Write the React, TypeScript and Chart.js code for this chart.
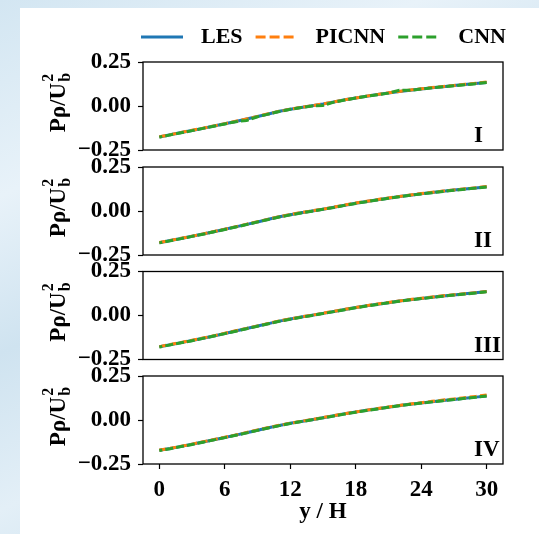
import React, { useEffect, useRef } from "react";
import { Chart, registerables } from "chart.js";

Chart.register(...registerables);

// ---------- data ----------
const X_VALUES = [0, 1, 2, 3, 4, 5, 6, 7, 8, 9, 10, 11, 12, 13, 14, 15, 16, 17, 18, 19, 20, 21, 22, 23, 24, 25, 26, 27, 28, 29, 30];
const X_TICKS = [0, 6, 12, 18, 24, 30];
const Y_TICKS = [-0.25, 0, 0.25];
const PANEL_LABELS = ["I", "II", "III", "IV"];
const SERIES_NAMES = ["LES", "PICNN", "CNN"];
const X_TITLE = "y / H";

const LES_I = [-0.176, -0.163, -0.151, -0.139, -0.127, -0.114, -0.101, -0.088, -0.074, -0.060, -0.045, -0.030, -0.018, -0.008, 0.001, 0.011, 0.023, 0.035, 0.046, 0.055, 0.065, 0.074, 0.083, 0.090, 0.097, 0.104, 0.110, 0.116, 0.122, 0.128, 0.134];
const PICNN_I = [-0.175, -0.163, -0.150, -0.138, -0.126, -0.113, -0.100, -0.087, -0.073, -0.059, -0.044, -0.030, -0.018, -0.007, 0.002, 0.012, 0.024, 0.035, 0.046, 0.056, 0.066, 0.075, 0.083, 0.091, 0.098, 0.105, 0.111, 0.117, 0.123, 0.129, 0.136];
const CNN_I = [-0.177, -0.164, -0.152, -0.140, -0.127, -0.115, -0.102, -0.089, -0.082, -0.061, -0.046, -0.031, -0.019, -0.009, 0.000, 0.003, 0.022, 0.034, 0.045, 0.055, 0.064, 0.073, 0.089, 0.089, 0.096, 0.103, 0.109, 0.115, 0.121, 0.127, 0.133];

const LES_II = [-0.180, -0.168, -0.156, -0.144, -0.131, -0.118, -0.104, -0.090, -0.076, -0.062, -0.047, -0.033, -0.021, -0.010, 0.000, 0.010, 0.021, 0.033, 0.044, 0.054, 0.064, 0.073, 0.082, 0.090, 0.098, 0.105, 0.112, 0.119, 0.125, 0.131, 0.138];
const PICNN_II = [-0.179, -0.167, -0.155, -0.143, -0.130, -0.117, -0.103, -0.089, -0.075, -0.061, -0.046, -0.032, -0.020, -0.009, 0.001, 0.011, 0.022, 0.034, 0.045, 0.055, 0.065, 0.074, 0.083, 0.091, 0.099, 0.106, 0.113, 0.120, 0.126, 0.132, 0.139];
const CNN_II = [-0.181, -0.169, -0.157, -0.144, -0.132, -0.118, -0.105, -0.091, -0.077, -0.062, -0.048, -0.034, -0.022, -0.011, -0.001, 0.010, 0.020, 0.032, 0.043, 0.053, 0.063, 0.072, 0.081, 0.089, 0.097, 0.104, 0.111, 0.118, 0.124, 0.130, 0.137];

const LES_III = [-0.178, -0.166, -0.154, -0.142, -0.129, -0.116, -0.102, -0.088, -0.074, -0.060, -0.046, -0.032, -0.020, -0.009, 0.001, 0.012, 0.023, 0.034, 0.045, 0.055, 0.064, 0.073, 0.082, 0.090, 0.097, 0.104, 0.111, 0.117, 0.123, 0.129, 0.136];
const PICNN_III = [-0.177, -0.165, -0.153, -0.141, -0.128, -0.115, -0.101, -0.087, -0.073, -0.059, -0.045, -0.031, -0.019, -0.008, 0.002, 0.013, 0.024, 0.035, 0.046, 0.056, 0.065, 0.074, 0.083, 0.091, 0.098, 0.105, 0.112, 0.118, 0.124, 0.130, 0.137];
const CNN_III = [-0.179, -0.167, -0.155, -0.143, -0.130, -0.117, -0.103, -0.089, -0.075, -0.061, -0.047, -0.033, -0.021, -0.010, 0.000, 0.011, 0.022, 0.033, 0.044, 0.054, 0.063, 0.072, 0.081, 0.089, 0.096, 0.103, 0.110, 0.116, 0.122, 0.128, 0.135];

const LES_IV = [-0.172, -0.162, -0.150, -0.138, -0.125, -0.112, -0.099, -0.086, -0.072, -0.058, -0.044, -0.031, -0.019, -0.008, 0.002, 0.013, 0.024, 0.035, 0.045, 0.055, 0.064, 0.073, 0.082, 0.090, 0.097, 0.104, 0.111, 0.117, 0.124, 0.130, 0.137];
const PICNN_IV = [-0.171, -0.161, -0.149, -0.137, -0.124, -0.111, -0.098, -0.085, -0.071, -0.057, -0.043, -0.030, -0.018, -0.007, 0.003, 0.014, 0.025, 0.036, 0.046, 0.056, 0.065, 0.074, 0.083, 0.091, 0.098, 0.106, 0.113, 0.120, 0.127, 0.134, 0.142];
const CNN_IV = [-0.173, -0.163, -0.151, -0.139, -0.126, -0.113, -0.100, -0.087, -0.073, -0.059, -0.045, -0.032, -0.020, -0.009, 0.001, 0.012, 0.023, 0.034, 0.044, 0.054, 0.063, 0.072, 0.081, 0.089, 0.096, 0.103, 0.110, 0.116, 0.123, 0.129, 0.136];

const PANEL_SERIES = [
  [LES_I, PICNN_I, CNN_I],
  [LES_II, PICNN_II, CNN_II],
  [LES_III, PICNN_III, CNN_III],
  [LES_IV, PICNN_IV, CNN_IV],
];

// ---------- styles / layout ----------
const W = 539;
const H = 534;
const FONT = "'Liberation Serif', 'Times New Roman', serif";
const COLORS = ["#1f77b4", "#ff7f0e", "#2ca02c"];
const DASHES: number[][] = [[], [7, 3.5], [8, 3]];
const DASH_OFFSETS = [0, 0, 5];
const PANEL_TOPS = [62, 167, 271.5, 376];
const PANEL_H = 88;
const AXIS_LEFT = 143;
const AXIS_RIGHT = 503;

function fmtY(v: number) {
  const s = Math.abs(v).toFixed(2);
  return v < -1e-9 ? "\u2212" + s : s;
}

function makeDecor(label: string, showLegend: boolean) {
  return {
    id: "panelDecor",
    afterDraw(chart: any) {
      const { ctx, chartArea: a } = chart;
      ctx.save();
      // frame
      ctx.strokeStyle = "#000";
      ctx.lineWidth = 1.3;
      ctx.setLineDash([]);
      ctx.strokeRect(a.left, a.top, a.right - a.left, a.bottom - a.top);
      // panel label
      ctx.fillStyle = "#000";
      ctx.font = `bold 23px ${FONT}`;
      ctx.textAlign = "left";
      ctx.textBaseline = "alphabetic";
      ctx.fillText(label, a.right - 29, a.bottom - 8);
      // y title  P rho / U_b^2
      const fs = 23;
      const ss = 16;
      const cx = 57;
      const cy = (a.top + a.bottom) / 2 - 3;
      ctx.translate(cx, cy);
      ctx.rotate(-Math.PI / 2);
      ctx.font = `bold ${fs}px ${FONT}`;
      const main = "P\u03c1/U";
      const w1 = ctx.measureText(main).width;
      ctx.font = `bold ${ss}px ${FONT}`;
      const w2 = Math.max(ctx.measureText("b").width, ctx.measureText("2").width);
      const x0 = -(w1 + w2) / 2;
      const by = fs * 0.34;
      ctx.font = `bold ${fs}px ${FONT}`;
      ctx.fillText(main, x0, by);
      ctx.font = `bold ${ss}px ${FONT}`;
      ctx.fillText("b", x0 + w1 + 1, by + fs * 0.22);
      ctx.fillText("2", x0 + w1 + 1, by - fs * 0.5);
      ctx.setTransform(1, 0, 0, 1, 0, 0);
      // legend
      if (showLegend) {
        const ly = a.top - 25;
        let x = a.left - 2;
        ctx.font = `bold 22px ${FONT}`;
        ctx.textBaseline = "middle";
        chart.data.datasets.forEach((ds: any, i: number) => {
          ctx.strokeStyle = ds.borderColor;
          ctx.lineWidth = 2.8;
          ctx.setLineDash(i === 0 ? [] : [10, 4]);
          ctx.beginPath();
          ctx.moveTo(x, ly);
          ctx.lineTo(x + 42, ly);
          ctx.stroke();
          x += 42 + 18;
          ctx.fillText(ds.label, x, ly);
          x += ctx.measureText(ds.label).width + 13;
        });
      }
      ctx.restore();
    },
  };
}

function makeConfig(p: number): any {
  const isLast = p === 3;
  const series = PANEL_SERIES[p];
  const order = [3, 2, 1];
  const datasets = series.map((arr, i) => ({
    label: SERIES_NAMES[i],
    data: X_VALUES.map((x, k) => ({ x, y: arr[k] })),
    borderColor: COLORS[i],
    backgroundColor: COLORS[i],
    borderWidth: 3,
    borderDash: DASHES[i],
    borderDashOffset: DASH_OFFSETS[i],
    pointRadius: 0,
    fill: false,
    tension: 0,
    order: order[i],
  }));
  const top = PANEL_TOPS[p];
  const bottom = top + PANEL_H;
  return {
    type: "line",
    data: { datasets },
    plugins: [makeDecor(PANEL_LABELS[p], p === 0)],
    options: {
      animation: false,
      responsive: false,
      devicePixelRatio: 1,
      events: [],
      layout: {
        padding: {
          left: 0,
          right: W - AXIS_RIGHT,
          top: top,
          bottom: isLast ? 8 : H - bottom,
        },
      },
      plugins: { legend: { display: false }, tooltip: { enabled: false } },
      scales: {
        x: {
          type: "linear",
          display: isLast,
          min: -1.5,
          max: 31.5,
          afterBuildTicks: (s: any) => {
            s.ticks = X_TICKS.map((v) => ({ value: v }));
          },
          afterFit: (s: any) => {
            s.height = isLast ? H - 8 - bottom : 0;
          },
          grid: {
            display: true,
            drawOnChartArea: false,
            drawTicks: true,
            tickLength: 5,
            tickColor: "#000",
            tickWidth: 1.2,
          },
          border: { display: false },
          ticks: {
            color: "#000",
            padding: 7,
            maxRotation: 0,
            autoSkip: false,
            font: { family: FONT, size: 23, weight: "bold" },
            callback: (v: any) => String(v),
          },
          title: {
            display: true,
            text: X_TITLE,
            color: "#000",
            padding: 0,
            font: { family: FONT, size: 23, weight: "bold" },
          },
        },
        y: {
          type: "linear",
          position: "left",
          min: -0.25,
          max: 0.25,
          afterBuildTicks: (s: any) => {
            s.ticks = Y_TICKS.map((v) => ({ value: v }));
          },
          afterFit: (s: any) => {
            s.width = AXIS_LEFT;
          },
          grid: {
            display: true,
            drawOnChartArea: false,
            drawTicks: true,
            tickLength: 5,
            tickColor: "#000",
            tickWidth: 1.2,
          },
          border: { display: false },
          ticks: {
            color: "#000",
            padding: 7,
            autoSkip: false,
            font: { family: FONT, size: 23, weight: "bold" },
            callback: (v: any) => fmtY(Number(v)),
          },
        },
      },
    },
  };
}

export default function App() {
  const r0 = useRef<HTMLCanvasElement>(null);
  const r1 = useRef<HTMLCanvasElement>(null);
  const r2 = useRef<HTMLCanvasElement>(null);
  const r3 = useRef<HTMLCanvasElement>(null);
  const refs = [r0, r1, r2, r3];

  useEffect(() => {
    const charts = refs.map((r, i) => new Chart(r.current as HTMLCanvasElement, makeConfig(i)));
    return () => charts.forEach((c) => c.destroy());
  }, []);

  return (
    <div
      style={{
        position: "fixed",
        left: 0,
        top: 0,
        width: W,
        height: H,
        overflow: "hidden",
        background:
          "linear-gradient(155deg, #d3e6f2 0%, #e8f2f9 25%, #cfe3f0 45%, #e3eff7 65%, #cbe1ef 85%, #dcebf5 100%)",
      }}
    >
      <div style={{ position: "absolute", left: 20, top: 8, right: 0, bottom: 0, background: "#ffffff" }} />
      {refs.map((r, i) => (
        <canvas
          key={i}
          ref={r}
          width={W}
          height={H}
          style={{ position: "absolute", left: 0, top: 0, width: W, height: H }}
        />
      ))}
    </div>
  );
}
